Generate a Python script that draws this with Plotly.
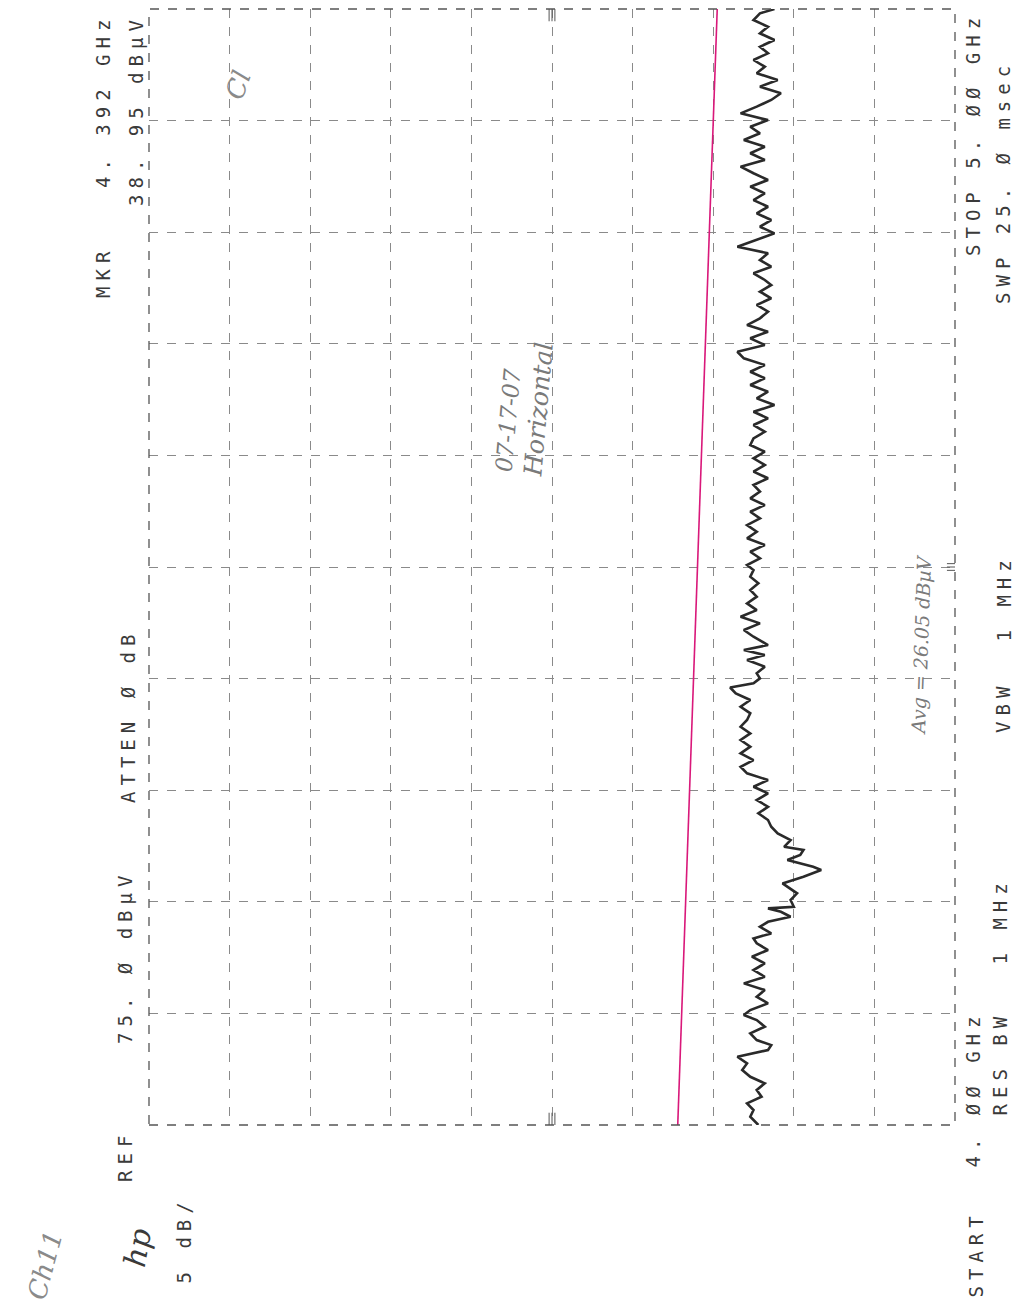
import plotly.graph_objects as go

# ---------------- data ----------------
freq_mhz = [
    4000.0, 4007.4, 4013.4, 4019.4, 4025.3, 4031.3, 4037.3, 4043.2, 4049.2, 4055.2,
    4061.2, 4067.2, 4071.6, 4076.1, 4082.1, 4088.1, 4094.0, 4098.5, 4103.0, 4109.0,
    4114.9, 4120.9, 4126.9, 4132.8, 4138.8, 4144.8, 4150.8, 4156.8, 4162.8, 4167.2,
    4171.7, 4177.6, 4182.1, 4186.6, 4191.1, 4194.1, 4195.6, 4201.6, 4207.6, 4213.5,
    4216.5, 4222.5, 4228.5, 4231.4, 4234.5, 4237.4, 4241.9, 4246.4, 4249.3, 4255.3,
    4261.3, 4267.3, 4273.3, 4279.3, 4285.2, 4291.2, 4297.2, 4303.1, 4309.1, 4315.1,
    4321.0, 4327.0, 4333.0, 4339.0, 4345.0, 4350.9, 4356.9, 4362.9, 4368.9, 4374.8,
    4380.8, 4386.8, 4392.0, 4395.8, 4400.2, 4404.7, 4410.6, 4416.6, 4421.1, 4425.6,
    4430.1, 4437.5, 4443.5, 4449.5, 4455.4, 4461.4, 4467.4, 4473.4, 4479.4, 4485.4,
    4491.3, 4497.3, 4501.8, 4507.8, 4513.7, 4519.7, 4525.7, 4531.6, 4537.6, 4543.6,
    4549.5, 4555.5, 4561.5, 4567.5, 4573.5, 4579.5, 4585.4, 4591.4, 4597.4, 4603.3,
    4609.3, 4615.3, 4621.2, 4627.2, 4633.2, 4639.1, 4645.1, 4651.1, 4657.1, 4663.1,
    4669.1, 4675.0, 4681.0, 4687.0, 4692.9, 4698.9, 4704.9, 4710.8, 4716.8, 4722.8,
    4728.8, 4734.8, 4740.8, 4746.7, 4752.7, 4757.2, 4763.2, 4769.1, 4775.1, 4781.1,
    4787.0, 4793.0, 4799.0, 4804.9, 4810.9, 4816.9, 4822.8, 4828.8, 4834.8, 4840.8,
    4846.8, 4852.8, 4858.7, 4864.7, 4870.7, 4876.6, 4882.6, 4888.6, 4894.5, 4900.5,
    4906.5, 4912.5, 4918.5, 4924.5, 4930.4, 4936.4, 4942.4, 4948.3, 4954.3, 4960.3,
    4966.2, 4972.2, 4978.2, 4984.1, 4990.1, 4996.1, 5000.0,
]
level_dbuv = [
    37.2, 37.7, 37.5, 37.9, 37.0, 37.3, 36.8, 37.7, 38.2, 37.9,
    38.5, 36.6, 36.4, 37.3, 37.7, 36.8, 37.3, 38.1, 37.7, 36.6,
    37.3, 36.8, 38.1, 36.8, 37.5, 36.8, 37.6, 36.6, 37.3, 37.5,
    36.4, 37.1, 36.6, 35.2, 35.8, 36.6, 35.0, 35.2, 34.8, 35.4,
    35.7, 34.4, 33.3, 33.8, 34.6, 35.4, 34.6, 34.4, 35.6, 35.2,
    36.0, 36.4, 36.6, 37.2, 36.6, 37.3, 36.6, 37.5, 36.6, 37.9,
    38.3, 37.5, 38.3, 37.7, 38.3, 37.7, 38.3, 37.9, 37.7, 38.3,
    37.7, 38.6, 38.95, 37.5, 37.1, 37.3, 36.8, 37.9, 36.8, 38.1,
    36.6, 37.5, 38.1, 37.1, 38.3, 37.3, 37.9, 37.3, 37.7, 37.2,
    37.7, 37.5, 37.9, 37.1, 37.7, 36.8, 37.9, 37.3, 37.9, 37.1,
    37.7, 36.8, 37.7, 37.1, 37.5, 36.6, 37.5, 36.8, 37.5, 36.8,
    37.7, 37.5, 36.8, 37.5, 36.6, 37.5, 36.2, 37.3, 36.6, 37.7,
    36.8, 37.7, 36.8, 38.1, 38.5, 36.8, 37.7, 36.6, 37.9, 37.1,
    36.6, 37.3, 36.4, 37.1, 36.4, 36.8, 37.5, 36.4, 37.1, 36.6,
    38.5, 37.3, 36.2, 37.1, 36.4, 37.3, 36.6, 37.5, 36.8, 37.7,
    36.6, 37.5, 38.3, 36.8, 37.7, 36.8, 38.1, 37.1, 37.7, 36.6,
    38.3, 37.3, 36.4, 35.8, 37.1, 36.0, 37.3, 36.8, 37.5, 36.6,
    37.1, 36.2, 37.1, 36.6, 37.5, 37.1, 36.2,
]
limit_freq_mhz = [4000.0, 5000.0]
limit_dbuv = [42.2, 39.75]

ref_level = 75.0
db_per_div = 5.0
n_div = 10
start_mhz = 4000.0
stop_mhz = 5000.0

# ---------------- layout geometry ----------------
OFF = 8                      # default page body margin
W, H = 1021 - OFF, 1314 - OFF
L, R, T, B = 149, 955, 9, 1125  # plot area in page pixels


def px(x):
    return (x - L) / (R - L)


def py(y):
    return (B - y) / (B - T)


INK = "#3a3a3a"
MONO = "DejaVu Sans Mono"


def hp(text, sp=6):
    return f'<span style="letter-spacing:{sp}px">{text}</span>'


fig = go.Figure()

fig.add_trace(go.Scatter(
    x=limit_dbuv, y=limit_freq_mhz, mode="lines",
    line=dict(color="#d9187a", width=1.6), hoverinfo="skip", showlegend=False,
))
fig.add_trace(go.Scatter(
    x=level_dbuv, y=freq_mhz, mode="lines",
    line=dict(color="#2a2a2a", width=2.6), showlegend=False,
))

bottom_db = ref_level - db_per_div * n_div
fig.update_xaxes(
    range=[ref_level, bottom_db], tick0=bottom_db, dtick=db_per_div,
    showticklabels=False, ticks="", zeroline=False,
    showgrid=True, gridcolor="#8a8a8a", gridwidth=1, griddash="dash",
)
fig.update_yaxes(
    range=[start_mhz, stop_mhz], tick0=start_mhz, dtick=(stop_mhz - start_mhz) / 10,
    showticklabels=False, ticks="", zeroline=False,
    showgrid=True, gridcolor="#8a8a8a", gridwidth=1, griddash="dash",
)

shapes = [dict(type="rect", xref="paper", yref="paper", x0=0, x1=1, y0=0, y1=1,
               line=dict(color="#555555", width=1.3, dash="dash"))]
# center graticule markers ("III")
mid_db = (ref_level + bottom_db) / 2
mid_f = (start_mhz + stop_mhz) / 2
for k in (-1, 0, 1):
    shapes.append(dict(type="line", xref="x", yref="y",
                       x0=mid_db + 0.18 * k, x1=mid_db + 0.18 * k,
                       y0=stop_mhz, y1=stop_mhz - 11, line=dict(color="#555", width=1)))
    shapes.append(dict(type="line", xref="x", yref="y",
                       x0=mid_db + 0.18 * k, x1=mid_db + 0.18 * k,
                       y0=start_mhz, y1=start_mhz + 11, line=dict(color="#555", width=1)))
    shapes.append(dict(type="line", xref="x", yref="y",
                       x0=bottom_db, x1=bottom_db + 0.5,
                       y0=mid_f + 3 * k, y1=mid_f + 3 * k, line=dict(color="#555", width=1)))

ann = []


def label(text, x, y, xa="center", ya="middle", size=19, color=INK, family=MONO,
          angle=-90, style="normal", sp=6):
    ann.append(dict(text=hp(text, sp) if sp else text, x=px(x), y=py(y),
                    xref="paper", yref="paper", xanchor=xa, yanchor=ya,
                    showarrow=False, textangle=angle,
                    font=dict(family=family, size=size, color=color, style=style)))


# instrument text (rotated, reading bottom-to-top)
label("MKR", 103, 300, ya="bottom")
label("4. 392 GHz", 103, 12, ya="top")
label("38. 95 dBµV", 136, 12, ya="top")
label("REF", 125, 1184, ya="bottom")
label("75. Ø dBµV", 125, 1046, ya="bottom")
label("ATTEN Ø dB", 128, 805, ya="bottom")
label("5 dB/", 183, 1286, ya="bottom")
label("START", 975, 1300, ya="bottom")
label("4. ØØ GHz", 972, 1170, ya="bottom")
label("RES BW", 999, 1118, ya="bottom")
label("1 MHz", 999, 876, ya="top")
label("VBW", 1003, 735, ya="bottom")
label("1 MHz", 1003, 552, ya="top")
label("STOP 5. ØØ GHz", 973, 10, ya="top")
label("SWP 25. Ø msec", 1003, 306, ya="bottom")

# logo and handwriting
label("hp", 137, 1248, size=30, family="DejaVu Serif", style="italic", sp=0, angle=-80)
label("Ch11", 45, 1265, size=26, family="DejaVu Serif", style="italic", color="#8a8a8a", sp=0, angle=-75)
label("07-17-07", 508, 420, size=23, family="DejaVu Serif", style="italic", color="#7a7a7a", sp=0, angle=-85)
label("Horizontal", 538, 410, size=25, family="DejaVu Serif", style="italic", color="#7a7a7a", sp=0, angle=-85)
label("Avg = 26.05 dBµV", 921, 645, size=19, family="DejaVu Serif", style="italic", color="#7a7a7a", sp=0, angle=-88)
label("Cl", 238, 85, size=26, family="DejaVu Serif", style="italic", color="#8a8a8a", sp=0, angle=-70)

fig.update_layout(
    width=W, height=H, autosize=False,
    margin=dict(l=L - OFF, r=W - (R - OFF), t=T - OFF, b=H - (B - OFF), pad=0),
    paper_bgcolor="white", plot_bgcolor="white",
    shapes=shapes, annotations=ann, showlegend=False,
)

fig.write_html("out.html")
